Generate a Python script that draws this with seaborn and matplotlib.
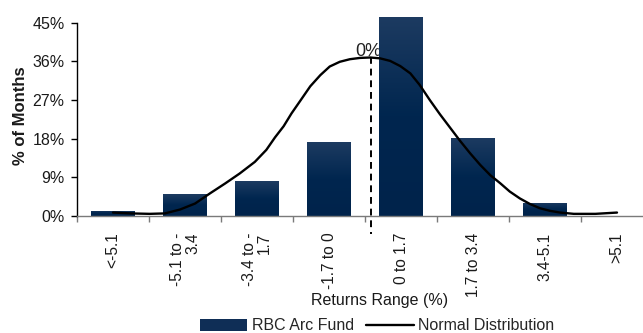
import numpy as np
import pandas as pd
import matplotlib
matplotlib.use("Agg")
import matplotlib.pyplot as plt
from matplotlib.patches import Patch
from matplotlib.lines import Line2D
from matplotlib.colors import LinearSegmentedColormap
import seaborn as sns

# Monthly return buckets and share of months falling in each
categories = ["<-5.1", "-5.1 to -\n3.4", "-3.4 to -\n1.7", "-1.7 to 0",
              "0 to 1.7", "1.7 to 3.4", "3.4-5.1", ">5.1"]
fund_pct = [1.2, 5.1, 8.1, 17.2, 46.4, 18.2, 3.1, 0.0]

# Fitted normal distribution, sampled along the bucket axis (bucket index units)
normal_pos = [0.00, 0.25, 0.51, 0.72, 0.93, 1.14, 1.35, 1.56, 1.76, 1.97,
              2.13, 2.25, 2.37, 2.48, 2.60, 2.74, 2.88, 3.01, 3.15, 3.29,
              3.43, 3.57, 3.71, 3.85, 3.99, 4.13, 4.26, 4.40, 4.54, 4.68,
              4.82, 4.96, 5.10, 5.24, 5.38, 5.51, 5.65, 5.79, 5.93, 6.07,
              6.21, 6.40, 6.70, 7.00]
normal_pct = [0.8, 0.6, 0.5, 0.6, 1.5, 2.9, 5.3, 7.6, 9.9, 12.6,
              15.4, 18.3, 20.9, 23.9, 26.8, 30.2, 32.8, 34.8, 35.9, 36.5,
              36.8, 36.9, 36.7, 36.1, 34.9, 33.2, 30.5, 27.0, 23.7, 20.6,
              17.5, 14.6, 11.9, 9.5, 7.6, 5.7, 4.1, 2.8, 1.8, 1.2,
              0.8, 0.5, 0.5, 0.8]
mean_pos = 3.58
mean_label = "0%"

y_ticks = [0, 9, 18, 27, 36, 45]

sns.set_theme(style="white")
plt.rcParams["font.family"] = ["Liberation Sans", "DejaVu Sans"]

W, H = 643, 333
fig = plt.figure(figsize=(W / 100, H / 100), dpi=100)
px_per_pct = (216 - 22.7) / 45.0
ymax = 46.5
ax = fig.add_axes([77 / W, (H - 216) / H, 576 / W, ymax * px_per_pct / H])

bars = pd.DataFrame({"bucket": categories, "pct": fund_pct})
sns.barplot(data=bars, x="bucket", y="pct", order=categories, color="#0d2c55",
            width=0.6, saturation=1, ax=ax, zorder=2)

ax.set_xlim(-0.5, 7.5)
ax.set_ylim(0, ymax)

# Vertical navy gradient on each bar
grad = LinearSegmentedColormap.from_list("navy", ["#00234b", "#00264f", "#1d3b61"])
gimg = np.linspace(0, 1, 256).reshape(-1, 1)
for p in list(ax.patches):
    x0, y0 = p.get_x(), p.get_y()
    w, h = p.get_width(), p.get_height()
    if h <= 0:
        continue
    im = ax.imshow(gimg, cmap=grad, origin="lower", aspect="auto",
                   extent=[x0, x0 + w, y0, y0 + h], zorder=2.5)
    im.set_clip_path(p)
ax.set_xlim(-0.5, 7.5)
ax.set_ylim(0, ymax)

curve = pd.DataFrame({"pos": normal_pos, "pct": normal_pct})
sns.lineplot(data=curve, x="pos", y="pct", color="black", linewidth=1.7,
             ax=ax, zorder=4, sort=False)

# Mean marker
peak = max(normal_pct)
ax.plot([mean_pos, mean_pos], [peak, -4.3], color="black", linewidth=1.4,
        linestyle=(0, (3.5, 2.5)), clip_on=False, zorder=5)
ax.text(mean_pos - 0.04, peak - 0.6, mean_label, ha="center", va="bottom",
        fontsize=13, color="#222222", zorder=1)

# Axes styling
for s in ["top", "right"]:
    ax.spines[s].set_visible(False)
ax.spines["left"].set_bounds(0, 45)
ax.spines["left"].set_color("black")
ax.spines["left"].set_linewidth(1.0)
ax.spines["bottom"].set_color("#7a7a7a")
ax.spines["bottom"].set_linewidth(1.0)

ax.set_yticks(y_ticks)
ax.set_yticklabels([f"{v}%" for v in y_ticks])
ax.tick_params(axis="y", which="major", direction="out", length=4, width=1,
               color="black", labelsize=11.5, labelcolor="#1a1a1a", pad=5, left=True)

ax.set_xticks(np.arange(-0.5, 8.0, 1.0))
ax.set_xticklabels([])
ax.tick_params(axis="x", which="major", direction="out", length=4, width=1,
               color="#7a7a7a", bottom=True)
ax.set_xticks(np.arange(len(categories)), minor=True)
ax.set_xticklabels(categories, minor=True, rotation=90, ha="center", va="top",
                   multialignment="right", fontsize=11.2, color="#1a1a1a",
                   linespacing=1.05)
ax.tick_params(axis="x", which="minor", length=0, pad=12)

ax.set_xlabel("")
ax.set_ylabel("% of Months", fontsize=12, fontweight="bold", color="#1a1a1a")
ax.yaxis.set_label_coords((28 - 77) / 576, 0.5)
fig.text(380 / W, 1 - 300 / H, "Returns Range (%)", ha="center", va="center",
         fontsize=11.5, color="#1a1a1a")

handles = [Patch(facecolor="#0f2e56", edgecolor="none", label="RBC Arc Fund"),
           Line2D([0], [0], color="black", linewidth=1.7, label="Normal Distribution")]
fig.legend(handles=handles, loc="center", bbox_to_anchor=(377 / W, 1 - 326 / H),
           ncol=2, frameon=False, fontsize=11.5, handlelength=3.0, handleheight=0.7,
           handletextpad=0.3, columnspacing=0.7, borderpad=0, borderaxespad=0)

fig.savefig("out.png", dpi=100)
